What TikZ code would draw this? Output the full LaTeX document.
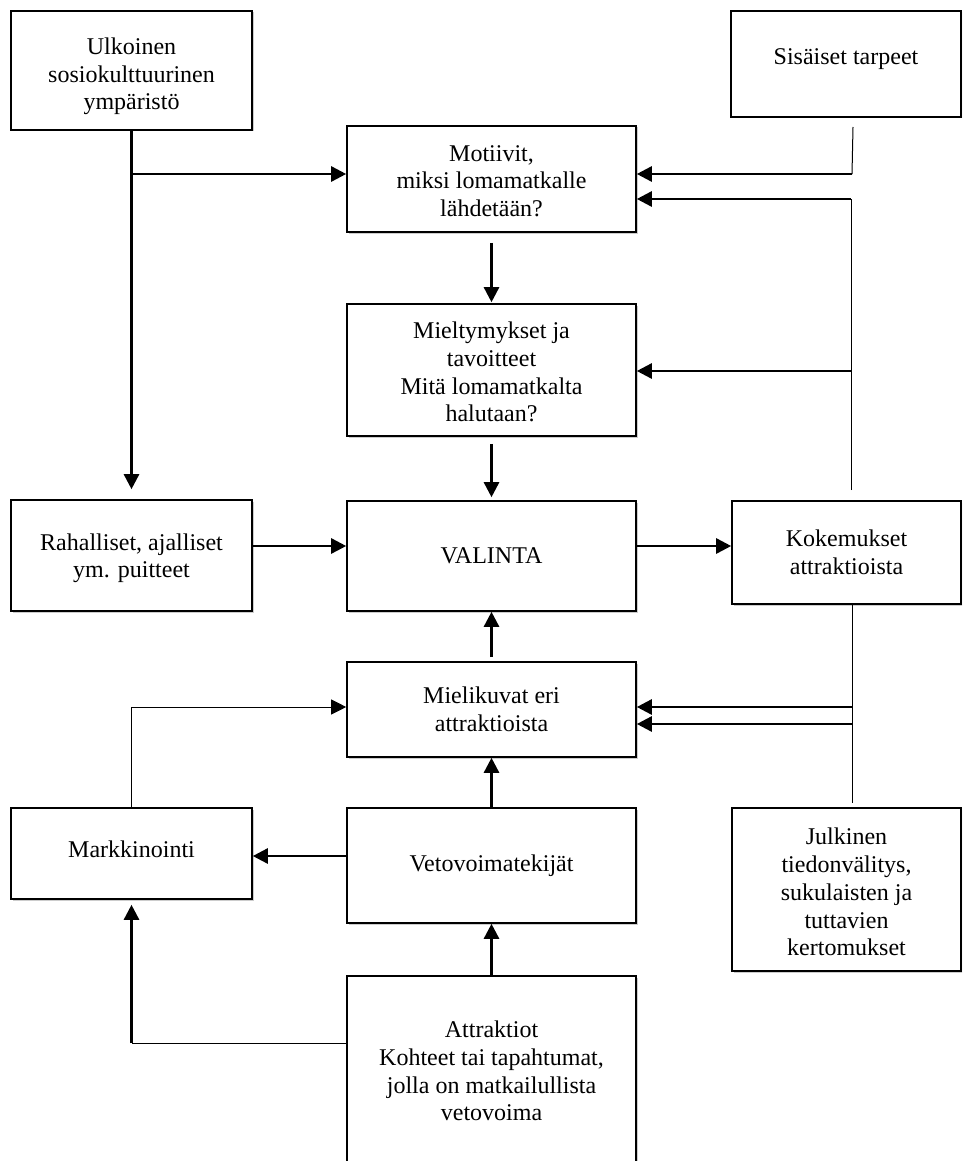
\documentclass[tikz,border=0pt]{standalone}
\usepackage{fontspec}
\setmainfont{Liberation Serif}
\usetikzlibrary{arrows.meta,shadows}
\newcommand{\topgap}[1]{\rule{0pt}{#1}}
\begin{document}
\begin{tikzpicture}[x=1pt,y=-1pt,
  box/.style={draw, line width=1.6pt, fill=white, inner sep=0pt, align=center,
    font=\fontsize{24}{27.7}\selectfont,
    drop shadow={shadow xshift=1.5pt, shadow yshift=-1.5pt, opacity=0.2, fill=black}},
  arr/.style={line width=2.6pt, -{Triangle[length=15pt,width=15pt]}},
  thinline/.style={line width=1pt},
  thinarr/.style={line width=1pt, -{Triangle[length=15pt,width=15pt]}}]
\clip (0,0) rectangle (962,1161);
\fill[white] (0,0) rectangle (962,1161);

% boxes
\node[box, minimum width=241pt, minimum height=119pt] (ulk) at (131.5,70.5) {\topgap{28.5pt}Ulkoinen\\sosiokulttuurinen\\ympäristö};
\node[box, minimum width=230pt, minimum height=106pt] (sis) at (846,64) {\raisebox{5pt}[\height][\depth]{Sisäiset tarpeet}};
\node[box, minimum width=289pt, minimum height=106pt] (mot) at (491.5,179) {\topgap{20pt}Motiivit,\\miksi lomamatkalle\\lähdetään?};
\node[box, minimum width=289pt, minimum height=132pt] (mie) at (491.5,370) {\topgap{21pt}Mieltymykset ja\\tavoitteet\\Mitä lomamatkalta\\halutaan?};
\node[box, minimum width=241pt, minimum height=111pt] (rah) at (131.5,555.5) {\topgap{22pt}Rahalliset, ajalliset\\ym. puitteet};
\node[box, minimum width=289pt, minimum height=110pt] (val) at (491.5,556) {VALINTA};
\node[box, minimum width=229pt, minimum height=103pt] (kok) at (846.5,552.5) {Kokemukset\\attraktioista};
\node[box, minimum width=289pt, minimum height=95pt] (mik) at (491.5,709.5) {Mielikuvat eri\\attraktioista};
\node[box, minimum width=241pt, minimum height=91pt] (mar) at (131.5,853.5) {\raisebox{4pt}[\height][\depth]{Markkinointi}};
\node[box, minimum width=289pt, minimum height=115pt] (vet) at (491.5,865.5) {Vetovoimatekijät};
\node[box, minimum width=229pt, minimum height=163pt] (jul) at (846.5,889.5) {\topgap{22pt}Julkinen\\tiedonvälitys,\\sukulaisten ja\\tuttavien\\kertomukset};
\node[box, minimum width=289pt, minimum height=190pt] (att) at (491.5,1071) {Attraktiot\\Kohteet tai tapahtumat,\\jolla on matkailullista\\vetovoima};

% helper points
\coordinate (u1) at (131.5,174);
\coordinate (s1) at (853,127);
\coordinate (s2) at (852,174);
\coordinate (k1) at (851,490);
\coordinate (k2) at (851,199);
\coordinate (k3) at (851,371);
\coordinate (j1) at (852,604);
\coordinate (j2) at (852,803);
\coordinate (j3) at (852,707);
\coordinate (j4) at (852,724);
\coordinate (a1) at (131.5,1043);

% Ulkoinen
\draw[arr, shorten >=10pt] (ulk.south) -- (rah.north);
\draw[arr] (u1) -- (u1 -| mot.west);

% Sisaiset tarpeet
\draw[thinline] (s1) -- (s2);
\draw[arr] (s2) -- (s2 -| mot.east);

% feedback from Kokemukset
\draw[thinline] (k1) -- (k2);
\draw[arr] (k2) -- (k2 -| mot.east);
\draw[arr] (k3) -- (k3 -| mie.east);

% main column
\draw[arr, shorten <=10pt, shorten >=1pt] (mot) -- (mie);
\draw[arr, shorten <=7pt, shorten >=3pt] (mie) -- (val);
\draw[arr, shorten <=4pt] (mik) -- (val);
\draw[arr] (vet) -- (mik);
\draw[arr] (att) -- (vet);

% side connections
\draw[arr] ([yshift=9.5pt]rah.east) -- ([yshift=9.5pt]rah.east -| val.west);
\draw[arr] ([yshift=10pt]val.east) -- ([yshift=10pt]val.east -| kok.west);
\draw[arr] ([yshift=9.5pt]vet.west) -- ([yshift=9.5pt]vet.west -| mar.east);
\draw[thinarr] (mar.north) |- ([yshift=2.5pt]mik.west);
\draw[thinline] (att.west |- a1) -- (a1);
\draw[arr, shorten >=5pt] (a1) -- (mar.south);

% Julkinen
\draw[thinline] (j1) -- (j2);
\draw[arr] (j3) -- (j3 -| mik.east);
\draw[arr] (j4) -- (j4 -| mik.east);
\end{tikzpicture}
\end{document}
